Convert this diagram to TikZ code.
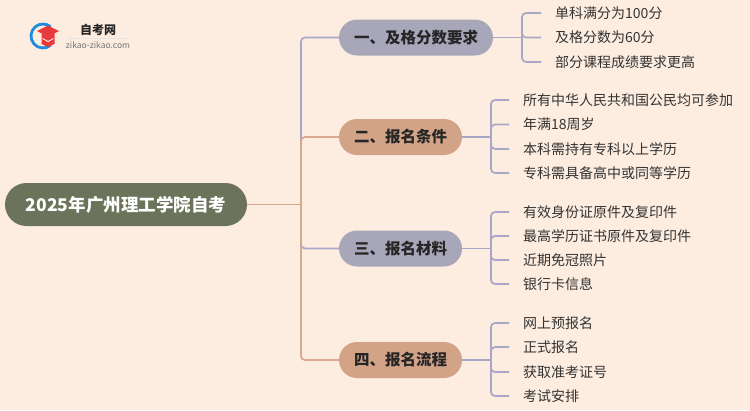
\documentclass[tikz,border=0pt]{standalone}
\usepackage{fontspec}
\setmainfont{Noto Sans CJK SC}
\usetikzlibrary{positioning}
\definecolor{page-bg}{RGB}{253, 237, 224}
\definecolor{root-green}{RGB}{107, 115, 90}
\definecolor{topic-gray}{RGB}{167, 167, 185}
\definecolor{topic-tan}{RGB}{211, 163, 136}
\definecolor{line-gray}{RGB}{168, 168, 198}
\definecolor{line-tan}{RGB}{218, 168, 142}
\definecolor{leaf-text}{RGB}{51, 51, 51}
\definecolor{logo-blue}{RGB}{30, 140, 220}
\definecolor{logo-red}{RGB}{232, 58, 58}

\begin{document}
\begin{tikzpicture}[x=1pt, y=-1pt,
    rootpill/.style={fill=root-green, text=white, minimum width=242pt, minimum height=43pt,
      rounded corners=21.5pt, inner sep=0pt, font=\fontsize{17.5}{20}\selectfont\bfseries},
    topicpill/.style={minimum width=123pt, minimum height=36pt, rounded corners=18pt,
      inner sep=0pt, text=black!85, font=\fontsize{15.5}{17}\selectfont\bfseries},
    leaftext/.style={anchor=west, inner xsep=14pt, inner ysep=0pt, text=leaf-text,
      font=\fontsize{14}{16}\selectfont},
    graylink/.style={draw=line-gray, line width=1.7pt, rounded corners=4pt},
    tanlink/.style={draw=line-tan, line width=1.7pt, rounded corners=4pt}]
\fill[page-bg] (0,0) rectangle (750,410);

% logo
\draw[logo-blue, line width=2.8pt] (43,36) ++(50:12) arc (50:310:12);
\fill[logo-red] (37,31) -- (48,25.5) -- (59,31) -- (48,36.5) -- cycle;
\fill[logo-red] (41.5,33) -- (48,36.5) -- (54.5,33) -- (54.5,44) -- (48,47) -- (41.5,44) -- cycle;
\draw[white, line width=0.8pt] (42.5,38.5) -- (48,41.5) -- (53.5,38.5);
\node[font=\fontsize{12}{13}\selectfont\bfseries, text=black!85] (logotitle) at (98,30) {自考网};
\node[font=\fontsize{8.5}{9}\selectfont, text=black!55] (logourl) at (98,45.5) {zikao-zikao.com};
\draw[black!10, line width=0.6pt] (67,38.5) -- (130,38.5);

% root and topics
\node[rootpill] (root) at (126,204.5) {2025年广州理工学院自考};
\node[topicpill, minimum width=154pt, fill=topic-gray] (t1) at (416,37.5) {一、及格分数要求};
\node[topicpill, fill=topic-tan] (t2) at (400.5,137) {二、报名条件};
\node[topicpill, fill=topic-gray] (t3) at (400.5,248.5) {三、报名材料};
\node[topicpill, fill=topic-tan] (t4) at (400.5,360) {四、报名流程};

\coordinate (hub) at (301,204.5);
\draw[graylink] (hub) |- (t1.west);
\draw[graylink] (hub) |- (t3.west);
\draw[tanlink] (root.east) -- (hub);
\draw[tanlink] (hub) |- (t2.west);
\draw[tanlink] (hub) |- (t4.west);

% leaves
\node[leaftext] (l11) at (541,13) {单科满分为100分};
\node[leaftext] (l12) at (541,37.5) {及格分数为60分};
\node[leaftext] (l13) at (541,62) {部分课程成绩要求更高};

\node[leaftext] (l21) at (509,100) {所有中华人民共和国公民均可参加};
\node[leaftext] (l22) at (509,124.5) {年满18周岁};
\node[leaftext] (l23) at (509,149) {本科需持有专科以上学历};
\node[leaftext] (l24) at (509,173) {专科需具备高中或同等学历};

\node[leaftext] (l31) at (509,212) {有效身份证原件及复印件};
\node[leaftext] (l32) at (509,236) {最高学历证书原件及复印件};
\node[leaftext] (l33) at (509,260) {近期免冠照片};
\node[leaftext] (l34) at (509,284) {银行卡信息};

\node[leaftext] (l41) at (509,323) {网上预报名};
\node[leaftext] (l42) at (509,347) {正式报名};
\node[leaftext] (l43) at (509,372) {获取准考证号};
\node[leaftext] (l44) at (509,396) {考试安排};

\coordinate (b1) at (522,37.5);
\coordinate (b2) at (491,137);
\coordinate (b3) at (491,248.5);
\coordinate (b4) at (491,360);

\draw[graylink] (t1.east) -- (b1);
\draw[graylink] (b1) |- (l11.west);
\draw[graylink] (b1) |- (l12.west);
\draw[graylink] (b1) |- (l13.west);

\draw[graylink] (t2.east) -- (b2);
\draw[graylink] (b2) |- (l21.west);
\draw[graylink] (b2) |- (l22.west);
\draw[graylink] (b2) |- (l23.west);
\draw[graylink] (b2) |- (l24.west);

\draw[graylink] (t3.east) -- (b3);
\draw[graylink] (b3) |- (l31.west);
\draw[graylink] (b3) |- (l32.west);
\draw[graylink] (b3) |- (l33.west);
\draw[graylink] (b3) |- (l34.west);

\draw[graylink] (t4.east) -- (b4);
\draw[graylink] (b4) |- (l41.west);
\draw[graylink] (b4) |- (l42.west);
\draw[graylink] (b4) |- (l43.west);
\draw[graylink] (b4) |- (l44.west);
\end{tikzpicture}
\end{document}
